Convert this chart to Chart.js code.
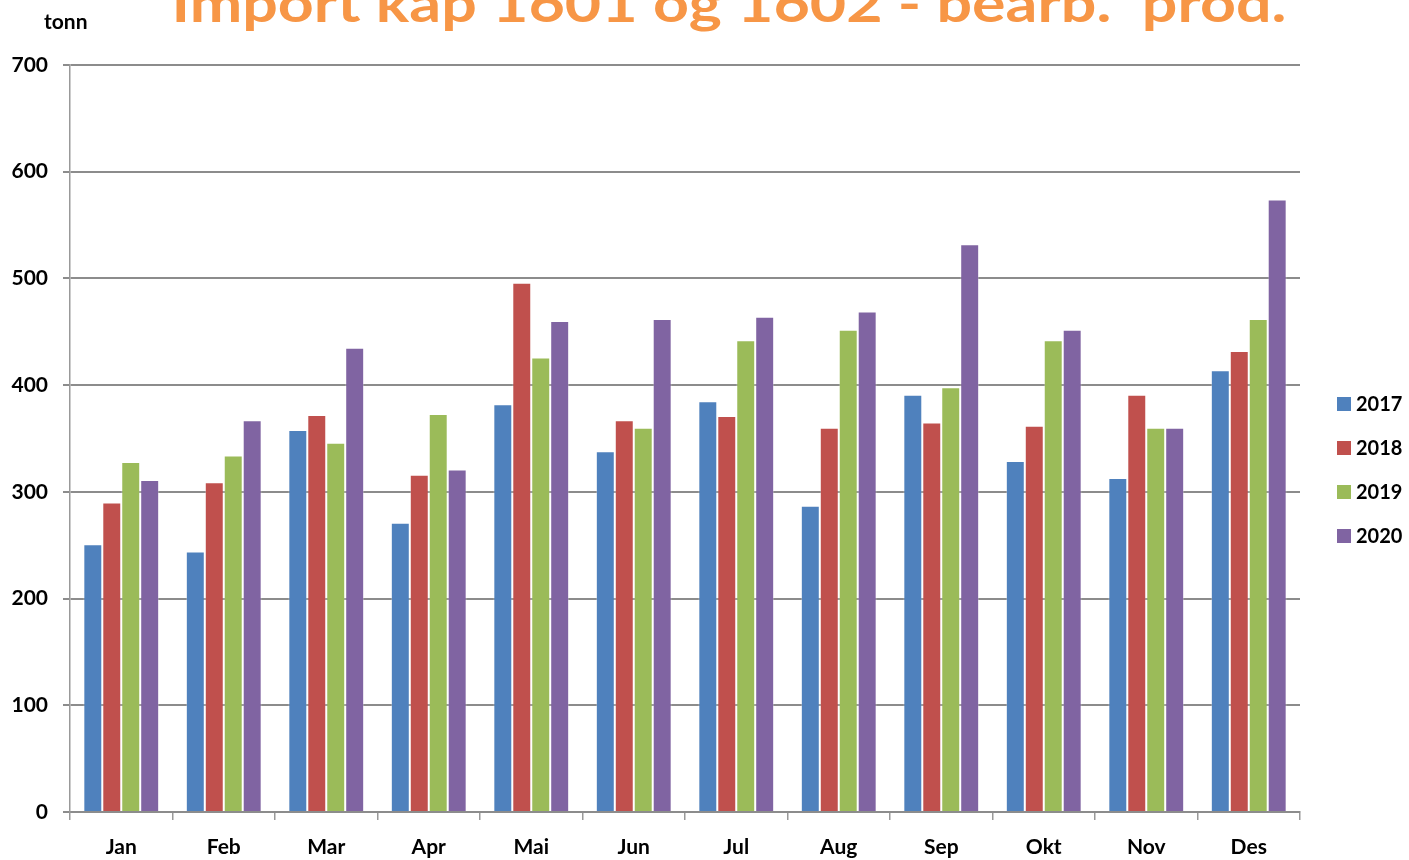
<!DOCTYPE html>
<html>
<head>
<meta charset="utf-8">
<script src="https://cdn.jsdelivr.net/npm/chart.js@4/dist/chart.umd.min.js"></script>
<style>
  body { margin: 0; background: #fff; }
  #wrap { width: 1409px; height: 860px; }
</style>
</head>
<body>
<div id="wrap"><canvas id="chart" width="1409" height="860"></canvas></div>
<script>
const titleText = 'Import kap 1601 og 1602 - bearb.  prod.'
const unitText = 'tonn'
const months = ['Jan', 'Feb', 'Mar', 'Apr', 'Mai', 'Jun', 'Jul', 'Aug', 'Sep', 'Okt', 'Nov', 'Des']
const years = ['2017', '2018', '2019', '2020']
const colors = ['#4F81BD', '#C0504D', '#9BBB59', '#8064A2']

const v2017 = [251, 244, 358, 271, 382, 338, 385, 287, 391, 329, 313, 414]
const v2018 = [290, 309, 372, 316, 496, 367, 371, 360, 365, 362, 391, 432]
const v2019 = [328, 334, 346, 373, 426, 360, 442, 452, 398, 442, 360, 462]
const v2020 = [311, 367, 435, 321, 460, 462, 464, 469, 532, 452, 360, 574]

const yMin = 0
const yMax = 700
const yStep = 100

Chart.defaults.font.family = 'Lato, "Open Sans", sans-serif'
Chart.defaults.font.weight = 'bold'
Chart.defaults.color = '#000'

// title (cut at the top edge, like the original) and the unit label
const headerPlugin = {
  id: 'header',
  afterDraw (chart) {
    const c = chart.ctx
    c.save()
    c.fillStyle = '#F79646'
    c.font = 'bold 52px Lato, "Open Sans", sans-serif'
    c.textBaseline = 'alphabetic'
    const w = c.measureText(titleText).width
    const target = 1115
    c.translate(729, 22)
    c.scale(target / w, 1)
    c.textAlign = 'center'
    c.fillText(titleText, 0, 0)
    c.restore()

    c.save()
    c.fillStyle = '#000'
    c.font = 'bold 21px Lato, "Open Sans", sans-serif'
    c.textAlign = 'left'
    c.textBaseline = 'alphabetic'
    c.fillText(unitText, 44, 29)
    c.restore()
  }
}

// legend to the right of the plot, built from the datasets
const sideLegend = {
  id: 'sideLegend',
  afterDraw (chart) {
    const c = chart.ctx
    const x = chart.chartArea.right + 37
    c.save()
    c.font = 'bold 20px Lato, "Open Sans", sans-serif'
    c.textBaseline = 'middle'
    c.textAlign = 'left'
    chart.data.datasets.forEach((ds, i) => {
      const y = 404 + i * 44
      c.fillStyle = ds.backgroundColor
      c.fillRect(x, y - 7, 14, 14)
      c.fillStyle = '#000'
      c.fillText(ds.label, x + 19, y + 1)
    })
    c.restore()
  }
}

const series = [v2017, v2018, v2019, v2020]

const chart = new Chart(document.getElementById('chart'), {
  type: 'bar',
  data: {
    labels: months,
    datasets: series.map((vals, i) => ({
      label: years[i],
      data: vals,
      backgroundColor: colors[i],
      borderColor: 'rgba(255,255,255,0.3)',
      borderWidth: 1,
      categoryPercentage: 0.74,
      barPercentage: 1
    }))
  },
  options: {
    responsive: false,
    animation: false,
    layout: { padding: { top: 65, right: 109, left: 0, bottom: 0 } },
    plugins: {
      legend: { display: false },
      title: { display: false },
      tooltip: { enabled: false }
    },
    scales: {
      x: {
        grid: {
          offset: true,
          drawOnChartArea: false,
          drawTicks: true,
          tickLength: 8,
          color: '#999',
          lineWidth: 1.5
        },
        border: { color: '#8c8c8c', width: 2 },
        ticks: { font: { size: 21, weight: 'bold' }, padding: 15, color: '#000' },
        afterFit: (scale) => { scale.height = 48 }
      },
      y: {
        min: yMin,
        max: yMax,
        ticks: { stepSize: yStep, font: { size: 21, weight: 'bold' }, padding: 15, color: '#000' },
        grid: { color: '#8c8c8c', lineWidth: 2, tickLength: 7 },
        border: { color: '#999', width: 1.5 },
        afterFit: (scale) => { scale.width = 70 }
      }
    }
  },
  plugins: [headerPlugin, sideLegend]
})
</script>
</body>
</html>
